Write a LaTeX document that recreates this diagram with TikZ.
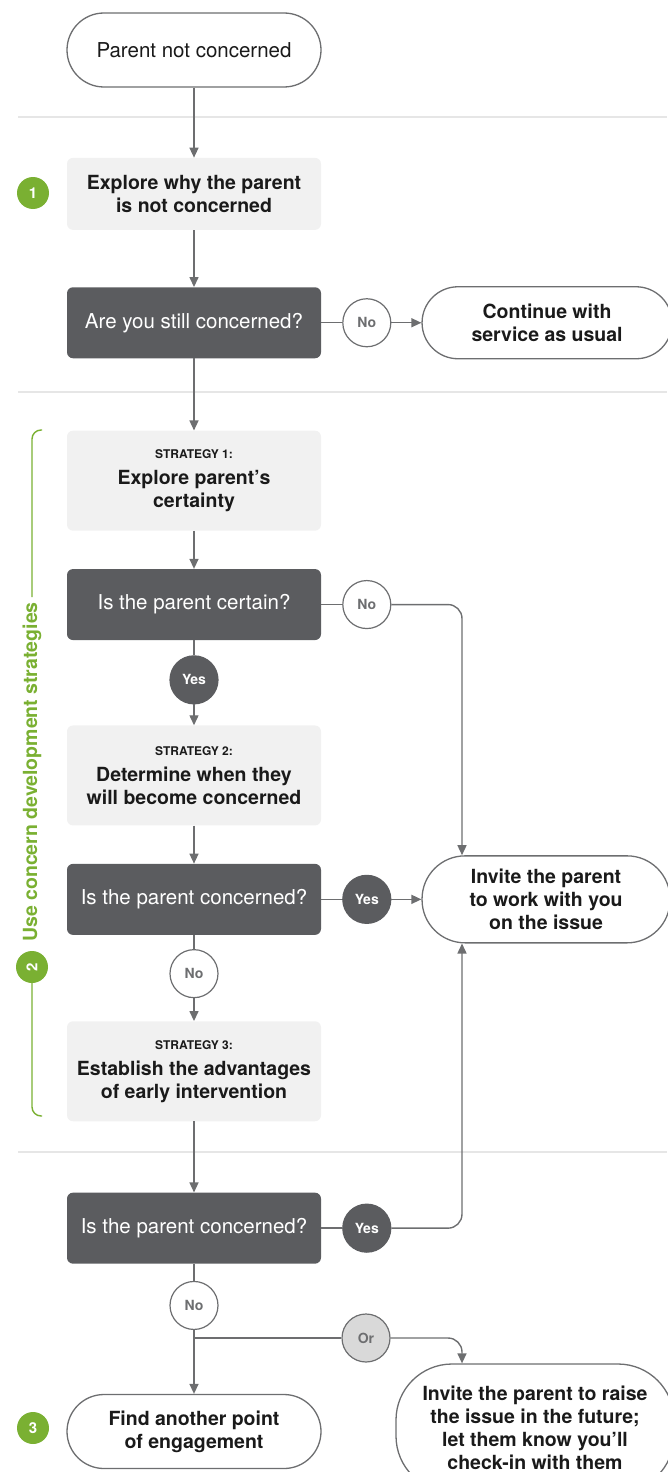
\documentclass[tikz,border=0pt]{standalone}
\usepackage{fontspec}
\setmainfont{TeX Gyre Heros}
\usetikzlibrary{positioning,arrows.meta}

\definecolor{darkbox}{HTML}{5B5C5F}
\definecolor{lightbox}{HTML}{F1F1F1}
\definecolor{linegray}{HTML}{6D6E70}
\definecolor{sepgray}{HTML}{E6E6E6}
\definecolor{leafgreen}{HTML}{7AB032}
\definecolor{orfill}{HTML}{D9D9D9}
\definecolor{inkblack}{HTML}{1A1A1A}

\newcommand\mainsize{\fontsize{19.5}{23}\selectfont}
\newcommand\plainsize{\fontsize{20.5}{23}\selectfont}
\newcommand\smallcaps{\fontsize{12}{14}\selectfont}
\newcommand\strat[2]{{\smallcaps\bfseries STRATEGY #1:}\\[3pt]#2}

\tikzset{
  base/.style={align=center, inner sep=0pt, text=inkblack},
  term/.style={base, draw=linegray, line width=1.3pt, fill=white,
    minimum width=254pt, minimum height=74pt, rounded corners=37pt, font=\plainsize},
  termbold/.style={term, font=\mainsize\bfseries},
  lightbox/.style={base, fill=lightbox, minimum width=254pt, minimum height=72pt,
    rounded corners=6pt, font=\mainsize\bfseries},
  stratbox/.style={lightbox, minimum height=100pt},
  darkbox/.style={base, fill=darkbox, text=white, minimum width=254pt,
    minimum height=71pt, rounded corners=6pt, font=\plainsize},
  ans/.style={circle, draw=linegray, line width=1.2pt, fill=white, minimum size=48pt,
    inner sep=0pt, text=linegray, font=\fontsize{14}{16}\selectfont\bfseries},
  ansdark/.style={ans, draw=darkbox, fill=darkbox, text=white},
  badge/.style={circle, fill=leafgreen, minimum size=32pt, inner sep=0pt,
    text=white, font=\fontsize{15}{17}\selectfont\bfseries},
  line/.style={draw=linegray, line width=1.4pt},
  arr/.style={line, -{Triangle[length=10pt, width=9pt]}},
  sep/.style={draw=sepgray, line width=1.2pt},
  brack/.style={draw=leafgreen, line width=1.4pt, rounded corners=9pt},
}

\begin{document}
\begin{tikzpicture}[x=1pt, y=-1pt]
\useasboundingbox (0,0) rectangle (667,1472);

% separators
\draw[sep] (18,117) -- (667,117);
\draw[sep] (18,392) -- (667,392);
\draw[sep] (18,1152) -- (667,1152);

% main column
\node[term] (start) at (194,50) {Parent not concerned};
\node[lightbox, below=70pt of start] (explore) {Explore why the parent\\is not concerned};
\node[darkbox, below=57pt of explore] (q1) {Are you still concerned?};
\node[stratbox, below=72pt of q1] (s1) {\strat{1}{Explore parent’s\\certainty}};
\node[darkbox, below=38pt of s1] (q2) {Is the parent certain?};
\node[stratbox, below=85pt of q2] (s2) {\strat{2}{Determine when they\\will become concerned}};
\node[darkbox, below=38pt of s2] (q3) {Is the parent concerned?};
\node[stratbox, below=86pt of q3] (s3) {\strat{3}{Establish the advantages\\of early intervention}};
\node[darkbox, below=71pt of s3] (q4) {Is the parent concerned?};
\node[termbold, below=130pt of q4] (find) {Find another point\\of engagement};

% answers
\node[ans, right=21pt of q1] (no1) {No};
\node[termbold, right=30pt of no1, minimum width=250pt, minimum height=72pt,
  rounded corners=36pt] (cont) {Continue with\\service as usual};
\node[ans, right=21pt of q2] (no2) {No};
\node[ansdark, below=15pt of q2] (yes1) {Yes};
\node[ansdark, right=21pt of q3] (yes2) {Yes};
\node[termbold, right=30pt of yes2, minimum width=248pt, minimum height=87pt,
  rounded corners=43pt] (invite) {Invite the parent\\to work with you\\on the issue};
\node[ans, below=14pt of q3] (no3) {No};
\node[ansdark, right=21pt of q4] (yes3) {Yes};
\node[ans, below=17pt of q4] (no4) {No};
\coordinate (split) at (194,1338);
\node[ans, fill=orfill] (or) at (366,1338) {Or};
\node[termbold, minimum width=278pt, minimum height=128pt, rounded corners=56pt]
  (later) at (535,1428) {Invite the parent to raise\\the issue in the future;\\let them know you'll\\check-in with them};
\coordinate (rail) at (462,0);

% connectors
\draw[arr] (start) -- (explore);
\draw[arr] (explore) -- (q1);
\draw[line] (q1) -- (no1);
\draw[arr] (no1) -- (cont);
\draw[arr] (q1) -- (s1);
\draw[arr] (s1) -- (q2);
\draw[line] (q2) -- (no2);
\draw[arr, rounded corners=14pt] (no2) -| (rail |- invite.north);
\draw[line] (q2) -- (yes1);
\draw[arr] (yes1) -- (s2);
\draw[arr] (s2) -- (q3);
\draw[line] (q3) -- (yes2);
\draw[arr] (yes2) -- (invite);
\draw[line] (q3) -- (no3);
\draw[arr] (no3) -- (s3);
\draw[arr] (s3) -- (q4);
\draw[line] (q4) -- (yes3);
\draw[arr, rounded corners=14pt] (yes3) -| (rail |- invite.south);
\draw[line] (q4) -- (no4);
\draw[arr] (no4) -- (find);
\draw[line] (split) -- (or);
\draw[arr, rounded corners=14pt] (or) -| (rail |- later.north);

% badges and bracket
\node[badge] (b1) at (33,193) {1};
\node[badge, rotate=90] (b2) at (32,967) {2};
\node[badge] (b3) at (33,1428) {3};
\node[rotate=90, anchor=west, inner sep=5pt, text=leafgreen,
  font=\mainsize\bfseries] (brlabel) at (32,947) {Use concern development strategies};
\draw[brack] (brlabel.east) -- (32,430) -- (42,430);
\draw[brack] (b2) -- (32,1116) -- (42,1116);
\end{tikzpicture}
\end{document}
